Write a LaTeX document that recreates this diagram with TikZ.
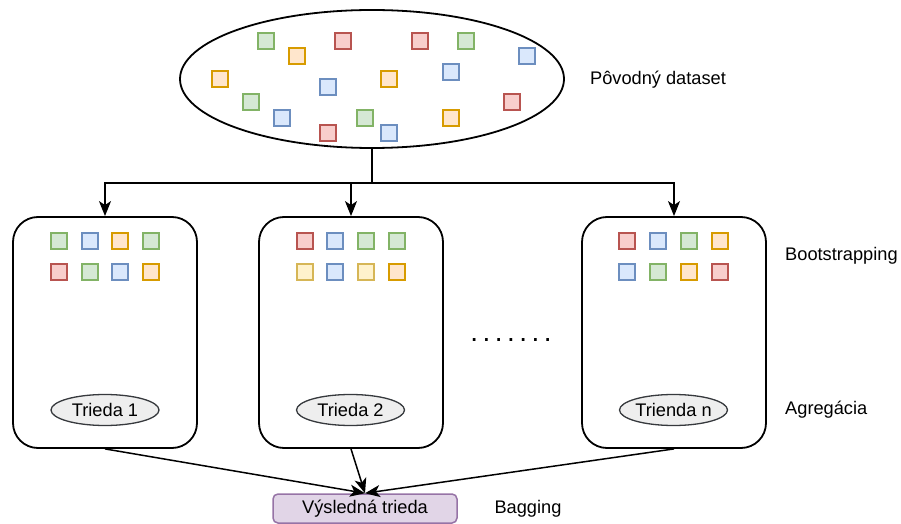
\documentclass[tikz,border=0pt]{standalone}
\usepackage{fontspec}
\setmainfont{Liberation Sans}
\usetikzlibrary{shapes.geometric,arrows.meta}

\definecolor{gfill}{HTML}{D5E8D4}\definecolor{gline}{HTML}{82B366}
\definecolor{bfill}{HTML}{DAE8FC}\definecolor{bline}{HTML}{6C8EBF}
\definecolor{ofill}{HTML}{FFE6CC}\definecolor{oline}{HTML}{D79B00}
\definecolor{rfill}{HTML}{F8CECC}\definecolor{rline}{HTML}{B85450}
\definecolor{yfill}{HTML}{FFF2CC}\definecolor{yline}{HTML}{D6B656}
\definecolor{pfill}{HTML}{E1D5E7}\definecolor{pline}{HTML}{9673A6}
\definecolor{cfill}{HTML}{EEEEEE}\definecolor{cline}{HTML}{36393D}

\tikzset{
  txt/.style={font=\fontsize{18.3}{22}\selectfont, inner sep=0pt},
  sq/.style={rectangle, minimum size=16bp, inner sep=0pt, line width=1.3bp},
  G/.style={sq, fill=gfill, draw=gline},
  B/.style={sq, fill=bfill, draw=bline},
  O/.style={sq, fill=ofill, draw=oline},
  R/.style={sq, fill=rfill, draw=rline},
  Y/.style={sq, fill=yfill, draw=yline},
  bag/.style={rectangle, rounded corners=25bp, draw, line width=1.8bp,
    minimum width=184bp, minimum height=231bp},
  cls/.style={ellipse, draw=cline, fill=cfill, line width=1.3bp,
    minimum width=108bp, minimum height=31bp, inner sep=0pt, txt},
  arr/.style={line width=1.5bp, -{Stealth[length=15bp,width=12bp,inset=4bp]}},
}

\begin{document}
\begin{tikzpicture}[x=1bp,y=-1bp]
\useasboundingbox (0,0) rectangle (901,524);

% original dataset
\node[ellipse, draw, line width=1.8bp, minimum width=384bp, minimum height=138bp]
  (ds) at (372,79) {};
\node[G] (d1)  at (266,41) {};
\node[O] (d2)  at (297,56) {};
\node[R] (d3)  at (343,41) {};
\node[R] (d4)  at (420,41) {};
\node[G] (d5)  at (466,41) {};
\node[B] (d6)  at (527,56) {};
\node[O] (d7)  at (220,79) {};
\node[B] (d8)  at (328,87) {};
\node[O] (d9)  at (389,79) {};
\node[B] (d10) at (451,72) {};
\node[G] (d11) at (251,102) {};
\node[B] (d12) at (282,118) {};
\node[R] (d13) at (512,102) {};
\node[G] (d14) at (365,118) {};
\node[O] (d15) at (451,118) {};
\node[R] (d16) at (328,133) {};
\node[B] (d17) at (389,133) {};
\node[txt] (lds) at (658,80) {Pôvodný dataset};

% bootstrap samples
\node[bag] (b1) at (105,332.5) {};
\node[bag] (b2) at (351,332.5) {};
\node[bag] (b3) at (674,332.5) {};

\node[G] (a1) at (59,241) {};
\node[B] (a2) at (90,241) {};
\node[O] (a3) at (120,241) {};
\node[G] (a4) at (151,241) {};
\node[R] (a5) at (59,272) {};
\node[G] (a6) at (90,272) {};
\node[B] (a7) at (120,272) {};
\node[O] (a8) at (151,272) {};

\node[R] (c1) at (305,241) {};
\node[B] (c2) at (335,241) {};
\node[G] (c3) at (366,241) {};
\node[G] (c4) at (397,241) {};
\node[Y] (c5) at (305,272) {};
\node[B] (c6) at (335,272) {};
\node[Y] (c7) at (366,272) {};
\node[O] (c8) at (397,272) {};

\node[R] (e1) at (627,241) {};
\node[B] (e2) at (658,241) {};
\node[G] (e3) at (689,241) {};
\node[O] (e4) at (720,241) {};
\node[B] (e5) at (627,272) {};
\node[G] (e6) at (658,272) {};
\node[O] (e7) at (689,272) {};
\node[R] (e8) at (720,272) {};

\node[cls] (k1) at (105,410) {Trieda 1};
\node[cls] (k2) at (350.5,410) {Trieda 2};
\node[cls] (k3) at (673.5,410) {Trienda n};

% ellipsis between the samples
\def\dotgap{\kern4.5bp}
\node[font=\fontsize{28}{32}\selectfont, inner sep=0pt] (dots) at (511,340)
  {.\dotgap.\dotgap.\dotgap.\dotgap.\dotgap.\dotgap.};

\node[txt, anchor=west] (lboot) at (785,256) {Bootstrapping};
\node[txt, anchor=west] (lagg) at (785,410) {Agregácia};

% result
\node[rectangle, rounded corners=5bp, draw=pline, fill=pfill, line width=1.5bp,
  minimum width=184bp, minimum height=29bp, txt] (res) at (365,508.5) {Výsledná trieda};
\node[txt] (lbag) at (528,509) {Bagging};

% connectors
\coordinate (split) at (372,183);
\draw[line width=1.5bp] (ds.south) -- (split);
\draw[arr] (split) -| (b1.north);
\draw[arr] (split) -| (b2.north);
\draw[arr] (split) -| (b3.north);
\draw[arr] (b1.south) -- (res.north);
\draw[arr] (b2.south) -- (res.north);
\draw[arr] (b3.south) -- (res.north);
\end{tikzpicture}
\end{document}
